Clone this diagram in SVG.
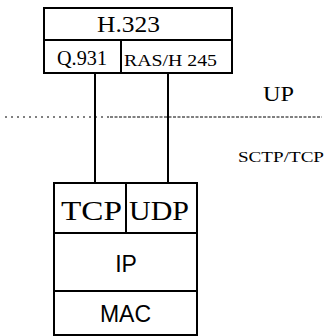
<svg xmlns="http://www.w3.org/2000/svg" width="327" height="336" viewBox="0 0 327 336">
  <style>
    .box { fill: #fff; stroke: #000; stroke-width: 2; }
    .div { stroke: #000; stroke-width: 2; fill: none; }
    .serif { font-family: "Liberation Serif", "Times New Roman", serif; fill: #000; }
    .sans { font-family: "Liberation Sans", Arial, sans-serif; fill: #000; }
    .link { stroke: #000; stroke-width: 2; fill: none; }
    .sep { stroke: #000; stroke-width: 1; fill: none; }
  </style>
  <rect width="327" height="336" fill="#fff"/>

  <!-- boundary between upper and lower planes -->
  <line class="sep" x1="5" y1="117" x2="110" y2="117" stroke-dasharray="2 4"/>
  <line class="sep" x1="110" y1="117" x2="322" y2="117" stroke-dasharray="3 1.5"/>

  <!-- connectors between the stacks -->
  <g id="connectors">
    <line class="link" x1="95" y1="73" x2="95" y2="183"/>
    <line class="link" x1="168" y1="73" x2="168" y2="183"/>
  </g>

  <!-- H.323 stack -->
  <g id="h323">
    <rect class="box" x="44" y="8" width="188" height="65"/>
    <line class="div" x1="44" y1="40" x2="232" y2="40"/>
    <line class="div" x1="121" y1="40" x2="121" y2="73"/>
    <text class="serif" x="97" y="32" font-size="24" textLength="63" lengthAdjust="spacingAndGlyphs">H.323</text>
  </g>
  <g id="q931">
    <text class="serif" x="57" y="65" font-size="20" textLength="50" lengthAdjust="spacingAndGlyphs">Q.931</text>
  </g>
  <g id="ras">
    <text class="serif" x="124" y="66" font-size="17" textLength="93" lengthAdjust="spacingAndGlyphs">RAS/H 245</text>
  </g>

  <!-- plane labels -->
  <g id="up">
    <text class="serif" x="263" y="101" font-size="22" textLength="31" lengthAdjust="spacingAndGlyphs">UP</text>
  </g>
  <g id="sctp">
    <text class="serif" x="238" y="162" font-size="15" textLength="86" lengthAdjust="spacingAndGlyphs">SCTP/TCP</text>
  </g>

  <!-- transport / network stack -->
  <g id="ipstack">
    <rect class="box" x="54" y="183" width="143" height="152"/>
    <line class="div" x1="54" y1="233" x2="197" y2="233"/>
    <line class="div" x1="54" y1="291" x2="197" y2="291"/>
    <line class="div" x1="126" y1="183" x2="126" y2="233"/>
  </g>
  <g id="tcp">
    <text class="serif" x="61" y="220" font-size="27" textLength="61" lengthAdjust="spacingAndGlyphs">TCP</text>
  </g>
  <g id="udp">
    <text class="serif" x="129" y="220" font-size="27" textLength="60" lengthAdjust="spacingAndGlyphs">UDP</text>
  </g>
  <g id="ip">
    <text class="sans" x="126" y="272" font-size="23" text-anchor="middle">IP</text>
  </g>
  <g id="mac">
    <text class="sans" x="125.5" y="322" font-size="23" text-anchor="middle">MAC</text>
  </g>
</svg>
